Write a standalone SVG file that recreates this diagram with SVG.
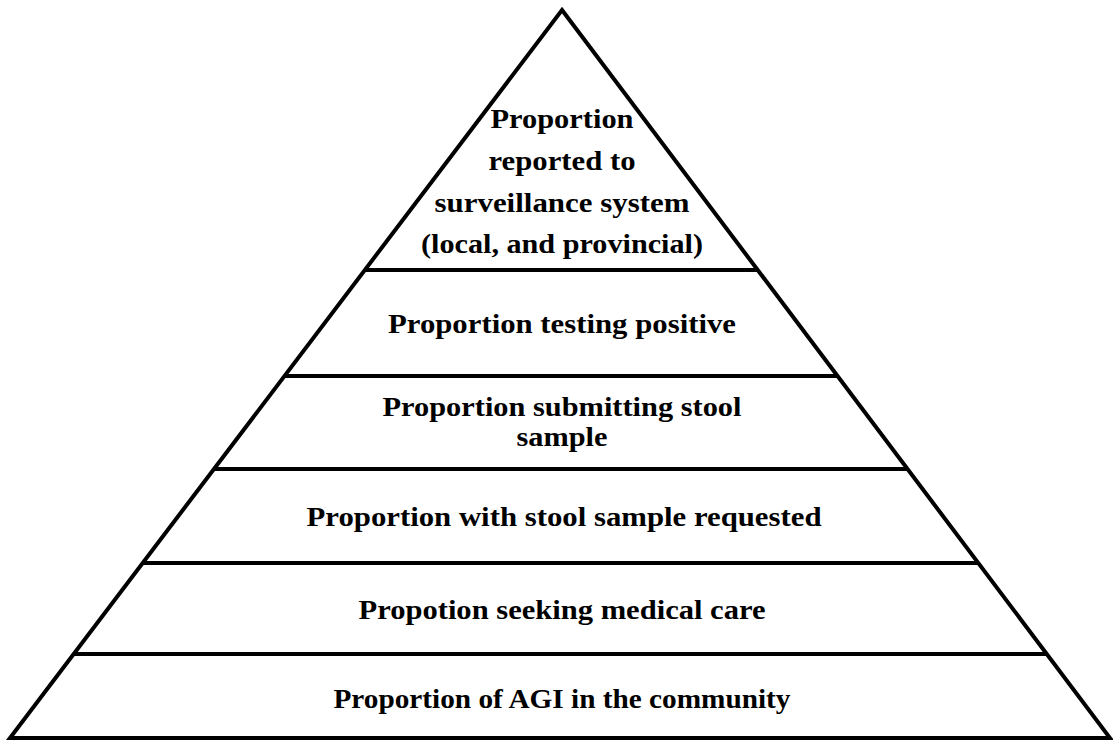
<svg xmlns="http://www.w3.org/2000/svg" width="1113" height="742" viewBox="0 0 1113 742">
<style>
.edge{fill:none;stroke:#000;stroke-width:4;stroke-linejoin:miter;stroke-miterlimit:10}
.div{stroke:#000;stroke-width:4}
.t{font-family:"Liberation Serif","Times New Roman",serif;font-weight:bold;font-size:27px;text-anchor:middle;fill:#000}
</style>
<rect x="0" y="0" width="1113" height="742" fill="#fff"/>
<g id="connectors">
<polygon class="edge" points="562,10 1110,738 10,738"/>
<line class="div" x1="364.9" y1="270" x2="757.7" y2="270"/>
<line class="div" x1="284.5" y1="376" x2="837.5" y2="376"/>
<line class="div" x1="214" y1="469" x2="907.5" y2="469"/>
<line class="div" x1="142.7" y1="563" x2="978.3" y2="563"/>
<line class="div" x1="73.7" y1="654" x2="1046.8" y2="654"/>
</g>
<g id="tier-reported">
<text class="t" x="562" y="128" textLength="143" lengthAdjust="spacingAndGlyphs">Proportion</text>
<text class="t" x="562" y="170" textLength="147" lengthAdjust="spacingAndGlyphs">reported to</text>
<text class="t" x="562" y="212" textLength="255" lengthAdjust="spacingAndGlyphs">surveillance system</text>
<text class="t" x="562" y="253" textLength="282" lengthAdjust="spacingAndGlyphs">(local, and provincial)</text>
</g>
<g id="tier-positive">
<text class="t" x="562" y="333" textLength="348" lengthAdjust="spacingAndGlyphs">Proportion testing positive</text>
</g>
<g id="tier-submitting">
<text class="t" x="562" y="416" textLength="359" lengthAdjust="spacingAndGlyphs">Proportion submitting stool</text>
<text class="t" x="562" y="446" textLength="91" lengthAdjust="spacingAndGlyphs">sample</text>
</g>
<g id="tier-requested">
<text class="t" x="564" y="526" textLength="515" lengthAdjust="spacingAndGlyphs">Proportion with stool sample requested</text>
</g>
<g id="tier-care">
<text class="t" x="562" y="619" textLength="407" lengthAdjust="spacingAndGlyphs">Propotion seeking medical care</text>
</g>
<g id="tier-community">
<text class="t" x="562" y="708" textLength="457" lengthAdjust="spacingAndGlyphs">Proportion of AGI in the community</text>
</g>
</svg>
